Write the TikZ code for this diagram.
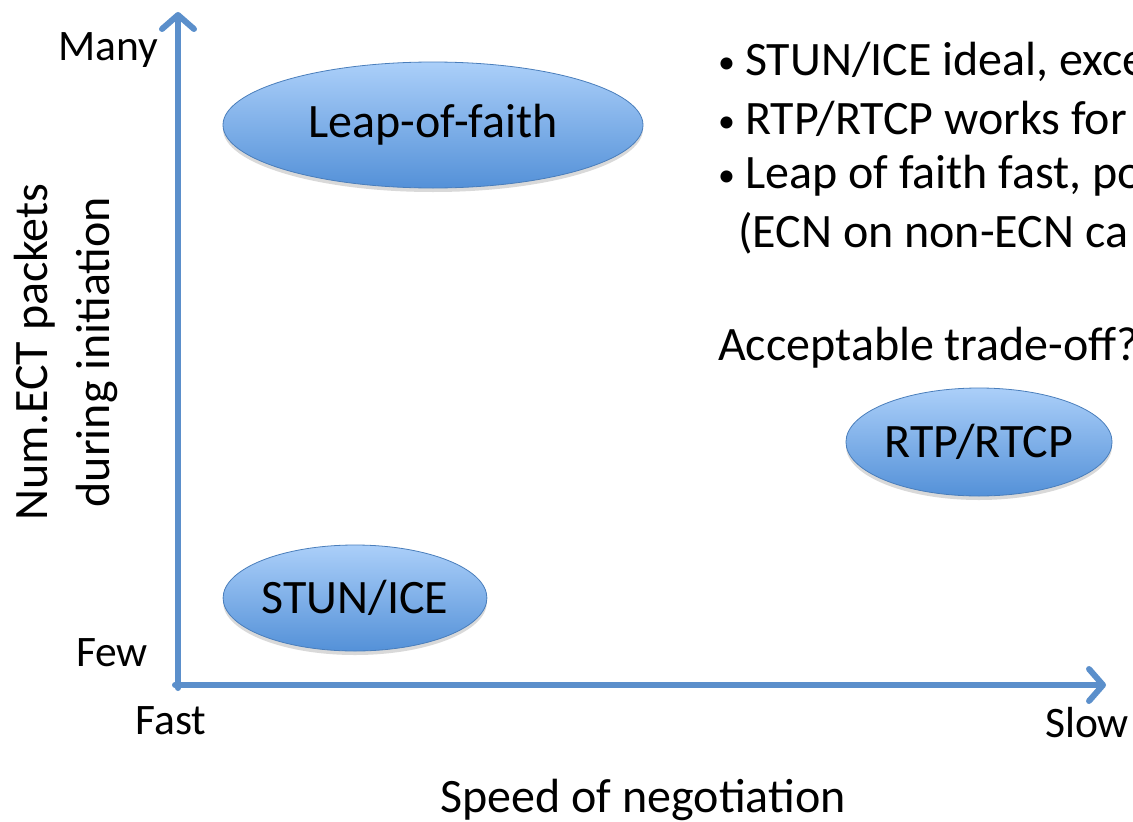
\documentclass[tikz,border=0pt]{standalone}
\usepackage{fontspec}
\setmainfont{Carlito}
\usetikzlibrary{arrows.meta,shadows,shapes.geometric}
\definecolor{axisblue}{HTML}{5B8FCB}
\definecolor{elltop}{HTML}{ABCFF9}
\definecolor{ellbot}{HTML}{5491D8}
\definecolor{ellborder}{HTML}{4A7EBB}
\newcommand{\bul}{\makebox[27pt][l]{\raisebox{2pt}{\fontsize{34}{34}\selectfont\textbullet}}}
\tikzset{
  axis/.style={draw=axisblue, line width=6pt, line cap=round,
    -{Straight Barb[length=14pt,width=32pt,round]}},
  blob/.style={ellipse, draw=ellborder, line width=0.8pt, top color=elltop, bottom color=ellbot,
    inner sep=0pt, font=\fontsize{48}{52}\selectfont,
    drop shadow={shadow xshift=0pt, shadow yshift=-4pt, opacity=0.25, fill=black!60}},
  lbl/.style={font=\fontsize{43.5}{46}\selectfont, inner sep=0pt},
  btxt/.style={font=\fontsize{48}{52}\selectfont, inner sep=0pt, anchor=west},
}
\begin{document}
\begin{tikzpicture}[x=1pt,y=-1pt]
\useasboundingbox (0,0) rectangle (1133,822);
\clip (0,0) rectangle (1133,822);
\coordinate (ybase) at (178,688);
\coordinate (xbase) at (175,685);
\coordinate (ytip) at (178,12);
\coordinate (xtip) at (1106,685);
\draw[axis] (ybase) -- (ytip);
\draw[axis] (xbase) -- (xtip);

\node[blob, minimum width=420pt, minimum height=126pt] (leap) at (433,125) {Leap-of-faith};
\node[blob, minimum width=262pt, minimum height=106pt] (stun) at (355,598) {STUN/ICE};
\node[blob, minimum width=262pt, minimum height=108pt] (rtp) at (979,442) {RTP/RTCP};

\node[lbl] (many) at (108,50) {Many};
\node[lbl] (few) at (112,653) {Few};
\node[lbl] (fast) at (171,721) {Fast};
\node[lbl, anchor=west] (slow) at (1045,723) {Slow};
\node[font=\fontsize{48}{62}\selectfont, inner sep=0pt] (xlab) at (643,800) {Speed of negotiation};
\node[font=\fontsize{48}{62}\selectfont, rotate=90, align=center, inner sep=0pt] (ylab) at (66,352) {Num.ECT packets\\during initiation};

\node[btxt] (b1) at (718,62) {\bul STUN/ICE ideal, exce};
\node[btxt] (b2) at (718,119) {\bul RTP/RTCP works for};
\node[btxt] (b3) at (718,176) {\bul Leap of faith fast, po};
\node[btxt] (b4) at (738,233) {(ECN on non-ECN ca};
\node[btxt] (acc) at (718,348) {Acceptable trade-off?};
\end{tikzpicture}
\end{document}
